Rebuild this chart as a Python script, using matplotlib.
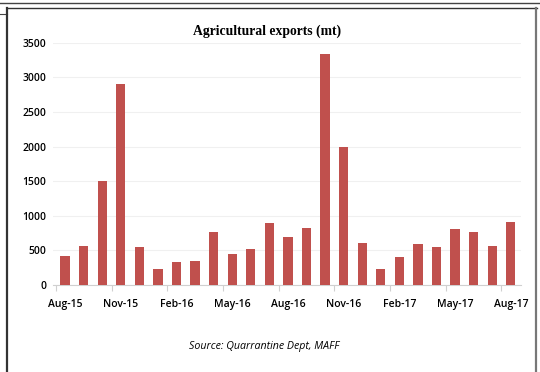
import matplotlib.pyplot as plt
import numpy as np
from matplotlib.lines import Line2D

months = ['Aug-15', 'Sep-15', 'Oct-15', 'Nov-15', 'Dec-15', 'Jan-16', 'Feb-16',
          'Mar-16', 'Apr-16', 'May-16', 'Jun-16', 'Jul-16', 'Aug-16', 'Sep-16',
          'Oct-16', 'Nov-16', 'Dec-16', 'Jan-17', 'Feb-17', 'Mar-17', 'Apr-17',
          'May-17', 'Jun-17', 'Jul-17', 'Aug-17']
exports = [420, 570, 1500, 2900, 550, 235, 330, 350, 765, 450, 520, 890, 700,
           830, 3330, 2000, 600, 230, 410, 590, 545, 810, 765, 570, 910]
y_ticks = [0, 500, 1000, 1500, 2000, 2500, 3000, 3500]

fig = plt.figure(figsize=(5.4, 3.72), dpi=100)
W, H = 540, 372

# frame lines around the chart (pixel coords -> figure fraction)
def hline(y, x0, x1, lw, c):
    fig.add_artist(Line2D([x0 / W, x1 / W], [1 - y / H, 1 - y / H], lw=lw, color=c))

def vline(x, y0, y1, lw, c):
    fig.add_artist(Line2D([x / W, x / W], [1 - y0 / H, 1 - y1 / H], lw=lw, color=c))

hline(2.5, 0, 540, 1.0, '#444444')
hline(8, 6.5, 537, 1.0, '#333333')
hline(14, 0, 7, 0.8, '#444444')
vline(6.5, 8, 372, 1.6, '#333333')
vline(536, 8, 372, 1.6, '#777777')

ax = fig.add_axes([53 / W, 1 - 285 / H, (521 - 53) / W, (285 - 42.7) / H])
x = np.arange(len(months))
ax.bar(x, exports, width=0.5, color='#C0504D', zorder=3)

ax.set_xlim(-0.65, 24.55)
ax.set_ylim(0, 3500)
ax.set_yticks(y_ticks)
ax.set_yticklabels([str(v) for v in y_ticks], fontsize=7.5, family='Open Sans',
                   weight='semibold')
ax.set_xticks(x[::3])
ax.set_xticklabels(months[::3], fontsize=7.5, family='Open Sans', weight='semibold')
ax.set_xticks(np.arange(-0.5, 24, 3), minor=True)
ax.tick_params(axis='x', which='major', length=0, pad=10)
ax.tick_params(axis='x', which='minor', length=4, color='#d0d0d0', width=0.8)
ax.tick_params(axis='y', length=0, pad=5)

ax.grid(axis='y', color='#f0f0f0', lw=0.8, zorder=0)
for s in ['top', 'right', 'left']:
    ax.spines[s].set_visible(False)
ax.spines['bottom'].set_color('#d0d0d0')
ax.spines['bottom'].set_linewidth(0.8)

fig.text(267 / W, 1 - 31 / H, 'Agricultural exports (mt)', ha='center', va='center',
         fontsize=9.8, family='Liberation Serif', weight='bold')
fig.text(264 / W, 1 - 347 / H, 'Source: Quarrantine Dept, MAFF', ha='center',
         va='center', fontsize=7.7, family='Open Sans', style='italic')

fig.savefig('out.png', dpi=100)
